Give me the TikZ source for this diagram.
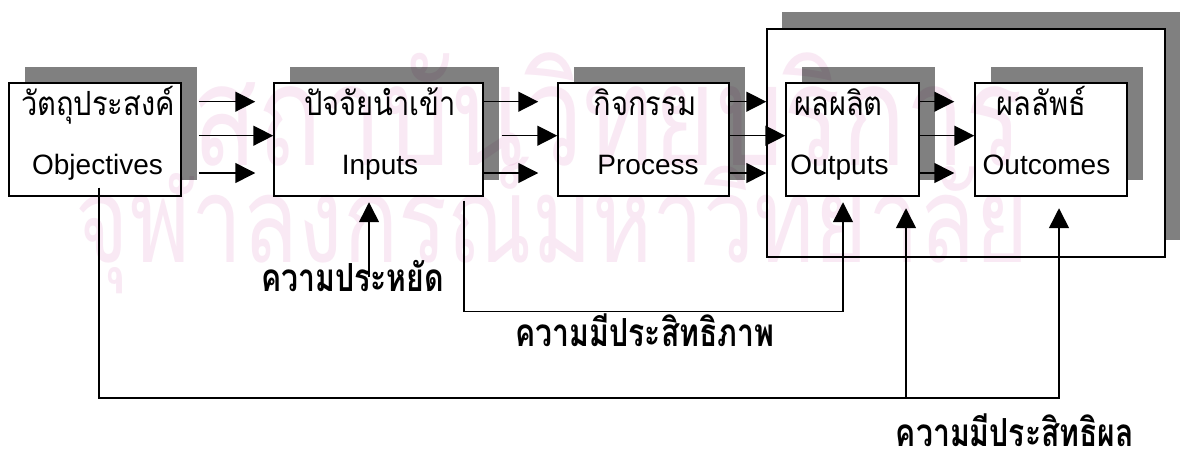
\documentclass[tikz,border=0pt]{standalone}
\usepackage{fontspec}
\setmainfont{Liberation Sans}
\newfontfamily\thaifont[Script=Thai,FakeStretch=0.87]{Loma}
\newfontfamily\thaicond[Script=Thai,FakeStretch=0.78]{Loma}
\newfontfamily\thaiwm[Script=Thai,FakeStretch=0.76]{Loma}
\usetikzlibrary{arrows.meta,calc,fit,shadows}
\definecolor{shade}{RGB}{128,128,128}
\definecolor{wm}{RGB}{249,233,244}
\begin{document}
\begin{tikzpicture}[x=0.75pt,y=-0.75pt,line width=1.1pt,
  box/.style={draw=black,fill=white,inner sep=0pt,line width=1.1pt},
  shad/.style={drop shadow={shadow xshift=12pt,shadow yshift=12pt,fill=shade,opacity=1}},
  bigshad/.style={drop shadow={shadow xshift=11.25pt,shadow yshift=12.5pt,fill=shade,opacity=1}},
  arr/.style={-{Triangle[length=15pt,width=15pt]}},
  en/.style={anchor=base,inner sep=0pt,font=\fontsize{21}{25}\selectfont},
  th/.style={anchor=base,inner sep=0pt,font=\thaifont\fontsize{25}{29}\selectfont},
  lab/.style={anchor=base,inner sep=0pt,font=\thaicond\bfseries\fontsize{29}{34}\selectfont},
  wmk/.style={anchor=base west,inner sep=0pt,text=wm,font=\thaiwm\fontsize{90}{100}\selectfont}]
\useasboundingbox (0,0) rectangle (1181,454);
\fill[white] (0,0) rectangle (1181,454);

% boxes
\node[box,shad,fit={(9,83) (181,196)}] (obj) {};
\node[box,shad,fit={(274,83) (483,196)}] (inp) {};
\node[box,shad,fit={(558,83) (729,196)}] (proc) {};
\node[box,bigshad,fit={(767,29) (1165,257)}] (big) {};
\node[box,shad,fit={(786,83) (919,196)}] (out) {};
\node[box,shad,fit={(975,83) (1127,196)}] (outc) {};

% box texts
\node[th] (objth) at (98,115) {วัตถุประสงค์};
\node[en] (objen) at (97.5,174) {Objectives};
\node[th] (inpth) at (380,115) {ปัจจัยนำเข้า};
\node[en] (inpen) at (380,174) {Inputs};
\node[th] (procth) at (645,115) {กิจกรรม};
\node[en] (procen) at (648,174) {Process};
\node[th] (outth) at (838.5,115) {ผลผลิต};
\node[en] (outen) at (839.5,174) {Outputs};
\node[th] (outcth) at (1041.5,115) {ผลลัพธ์};
\node[en] (outcen) at (1046.5,174) {Outcomes};

% row levels
\coordinate (ya) at (0,101.7);
\coordinate (yb) at (0,135.7);
\coordinate (yc) at (0,173);

% objectives -> inputs
\draw[arr] ($(obj.east |- ya)+(17,0)$) -- ($(inp.west |- ya)+(-18,0)$);
\draw[arr] ($(obj.east |- yb)+(17,0)$) -- (inp.west |- yb);
\draw[arr] ($(obj.east |- yc)+(17,0)$) -- ($(inp.west |- yc)+(-18,0)$);
% inputs -> process
\draw[arr] (inp.east |- ya) -- ($(proc.west |- ya)+(-19,0)$);
\draw[arr] ($(inp.east |- yb)+(18,0)$) -- (proc.west |- yb);
\draw[arr] (inp.east |- yc) -- ($(proc.west |- yc)+(-19,0)$);
% process -> outputs
\draw[arr] (proc.east |- ya) -- (big.west |- ya);
\draw[arr] (proc.east |- yb) -- (out.west |- yb);
\draw[arr] (proc.east |- yc) -- (big.west |- yc);
% outputs -> outcomes
\draw[arr] (out.east |- ya) -- ($(outc.west |- ya)+(-20,0)$);
\draw[arr] (out.east |- yb) -- (outc.west |- yb);
\draw[arr] (out.east |- yc) -- ($(outc.west |- yc)+(-20,0)$);

% labels
\node[lab] (eco) at (352.5,291) {ความประหยัด};
\node[lab] (effi) at (645,346) {ความมีประสิทธิภาพ};
\node[lab] (effe) at (1015,446) {ความมีประสิทธิผล};

% economy
\coordinate (ecotop) at (369,277);
\draw[arr] (ecotop) -- ($(inp.south -| ecotop)+(0,5.5)$);

% efficiency
\coordinate (e1) at (464,0);
\coordinate (e2) at (843,0);
\coordinate (ey) at (0,311.5);
\draw[arr] ($(inp.south -| e1)+(0,4)$) -- (e1 |- ey) -- (e2 |- ey) -- ($(out.south -| e2)+(0,5.5)$);

% effectiveness
\coordinate (b1) at (99,0);
\coordinate (b2) at (906,0);
\coordinate (b3) at (1059,0);
\coordinate (by) at (0,398);
\draw[arr] ($(obj.south -| b1)+(0,-9)$) -- (b1 |- by) -- (b3 |- by) -- ($(outc.south -| b3)+(0,11.5)$);
\draw[arr] (b2 |- by) -- ($(out.south -| b2)+(0,11.5)$);

% watermark
\begin{scope}[blend mode=multiply]
\node[wmk,scale=1.17] (wma) at (192,165) {สถาบันวิทยบริการ};
\node[wmk] (wmb) at (75,262) {จุฬาลงกรณ์มหาวิทยาลัย};
\end{scope}
\end{tikzpicture}
\end{document}
